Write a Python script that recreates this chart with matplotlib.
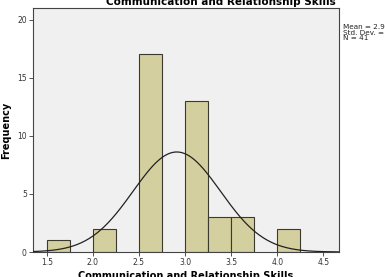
import matplotlib
matplotlib.use('Agg')
import matplotlib.pyplot as plt
import numpy as np

# histogram data (bin left edges and counts)
bin_left = [1.5, 2.0, 2.5, 3.0, 3.25, 3.5, 4.0]
counts = [1, 2, 17, 13, 3, 3, 2]
bin_width = 0.25
mean = 2.91
std = 0.475
n = 41

fig = plt.figure(figsize=(3.85, 2.77), dpi=100)
ax = fig.add_axes([33 / 385, 1 - 252 / 277, 306 / 385, 244 / 277])
ax.set_facecolor('#F0F0F0')

ax.bar(bin_left, counts, width=bin_width, align='edge',
       color='#D4CF9E', edgecolor='#3A3A30', linewidth=0.8, zorder=2)

x = np.linspace(1.35, 4.67, 400)
y = n * bin_width / (std * np.sqrt(2 * np.pi)) * np.exp(-0.5 * ((x - mean) / std) ** 2)
ax.plot(x, y, color='#222222', linewidth=0.9, zorder=3)

ax.set_xlim(1.35, 4.67)
ax.set_ylim(0, 21)
ax.set_xticks([1.5, 2.0, 2.5, 3.0, 3.5, 4.0, 4.5])
ax.set_xticklabels(['1.5', '2.0', '2.5', '3.0', '3.5', '4.0', '4.5'])
ax.set_yticks([0, 5, 10, 15, 20])
ax.tick_params(labelsize=5.5, colors='#333333', length=3, width=0.6, pad=1.5)
for s in ax.spines.values():
    s.set_color('#444444')
    s.set_linewidth(0.8)

ax.set_xlabel('Communication and Relationship Skills', fontsize=7, fontweight='bold', labelpad=3)
ax.set_ylabel('Frequency', fontsize=7, fontweight='bold', labelpad=4)

fig.text(221 / 385, 1 - 2 / 277, 'Communication and Relationship Skills', ha='center', va='center',
         fontsize=7.5, fontweight='bold')
fig.text(343 / 385, 1 - 24 / 277, 'Mean = 2.91\nStd. Dev. = 0.475\nN = 41', ha='left', va='top',
         fontsize=5.2, linespacing=0.95, color='#222222')

fig.savefig('out.png', dpi=100)
